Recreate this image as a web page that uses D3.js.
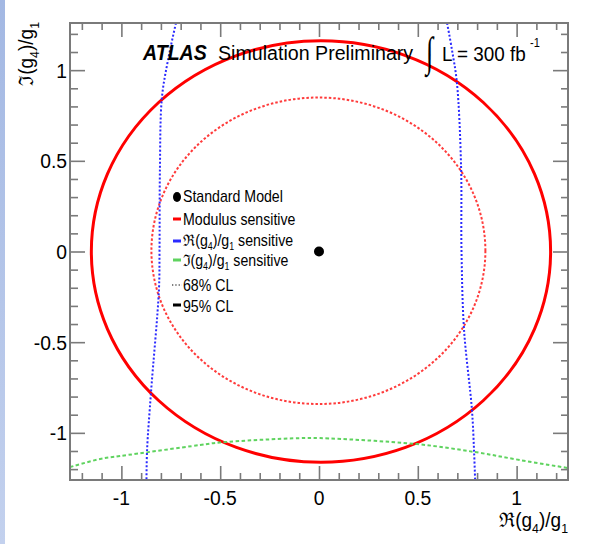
<!DOCTYPE html>
<html>
<head>
<meta charset="utf-8">
<script src="https://cdn.jsdelivr.net/npm/d3@7/dist/d3.min.js"></script>
<style>
  html, body { margin: 0; padding: 0; background: #fff; }
  svg { display: block; }
  text { font-family: "Liberation Sans", Arial, Helvetica, sans-serif; }
</style>
</head>
<body>
<svg id="chart" width="590" height="544"></svg>
<script>
// ---------------- DATA ----------------
const xDomain = [-1.26, 1.26];
const yDomain = [-1.26, 1.26];
const xMajorTicks = [-1, -0.5, 0, 0.5, 1];
const yMajorTicks = [-1, -0.5, 0, 0.5, 1];
const xTickLabels = ["-1", "-0.5", "0", "0.5", "1"];
const yTickLabels = ["-1", "-0.5", "0", "0.5", "1"];
const minorStep = 0.1;

// Standard Model point
const smPoint = [0, 0];

// Modulus-sensitive contours (circles): centre x, centre y, radius
const modulus95 = { cx: 0.01, cy: 0.0, r: 1.162 };
const modulus68 = { cx: -0.003, cy: 0.004, r: 0.845 };

// Re(g4)/g1 sensitive 68% CL boundaries: [x, y]
const reLeft = [[-0.724, 1.26], [-0.764, 1.056], [-0.795, 0.847], [-0.805, 0.45], [-0.807, 0.008],
                [-0.810, -0.212], [-0.850, -0.775], [-0.870, -1.095], [-0.873, -1.26]];
const reRight = [[0.648, 1.26], [0.673, 1.111], [0.698, 0.929], [0.719, 0.466], [0.721, 0.008],
                 [0.734, -0.433], [0.774, -0.874], [0.785, -1.111], [0.790, -1.26]];

// Im(g4)/g1 sensitive 68% CL boundary: [x, y]
const imLower = [[-1.26, -1.189], [-1.108, -1.144], [-1.007, -1.128], [-0.602, -1.067], [-0.501, -1.053],
                 [-0.096, -1.029], [0.005, -1.029], [0.496, -1.062], [0.790, -1.106], [1.017, -1.150],
                 [1.26, -1.194]];

const legendItems = ["Standard Model", "Modulus sensitive", "Re sensitive", "Im sensitive", "68% CL", "95% CL"];

// ---------------- DRAWING ----------------
const svg = d3.select("#chart");
const W = 590, H = 544;
const plot = { left: 70, right: 568, top: 23, bottom: 480 };

const x = d3.scaleLinear().domain(xDomain).range([plot.left, plot.right]);
const y = d3.scaleLinear().domain(yDomain).range([plot.bottom, plot.top]);

// left decorative strip
const defs = svg.append("defs");
const grad = defs.append("linearGradient").attr("id", "strip").attr("x1", 0).attr("y1", 0).attr("x2", 0).attr("y2", 1);
grad.append("stop").attr("offset", "0%").attr("stop-color", "#a3b8e3");
grad.append("stop").attr("offset", "100%").attr("stop-color", "#c3d1ee");
svg.append("rect").attr("x", 0).attr("y", 0).attr("width", 5).attr("height", H).attr("fill", "url(#strip)");

defs.append("clipPath").attr("id", "clip").append("rect")
  .attr("x", plot.left).attr("y", plot.top)
  .attr("width", plot.right - plot.left).attr("height", plot.bottom - plot.top);

const gPlot = svg.append("g").attr("clip-path", "url(#clip)");

// contours
gPlot.append("ellipse")
  .attr("cx", x(modulus68.cx)).attr("cy", y(modulus68.cy))
  .attr("rx", x(modulus68.r) - x(0)).attr("ry", y(0) - y(modulus68.r))
  .attr("fill", "none").attr("stroke", "#ff3b3b").attr("stroke-width", 2)
  .attr("stroke-dasharray", "2.5,2");

gPlot.append("ellipse")
  .attr("cx", x(modulus95.cx)).attr("cy", y(modulus95.cy))
  .attr("rx", x(modulus95.r) - x(0)).attr("ry", y(0) - y(modulus95.r))
  .attr("fill", "none").attr("stroke", "#ff0000").attr("stroke-width", 3);

const line = d3.line().x(d => x(d[0])).y(d => y(d[1])).curve(d3.curveCatmullRom.alpha(0.5));

[reLeft, reRight].forEach(arr => {
  gPlot.append("path").attr("d", line(arr))
    .attr("fill", "none").attr("stroke", "#2a2aff").attr("stroke-width", 2)
    .attr("stroke-dasharray", "2,2");
});

gPlot.append("path").attr("d", line(imLower))
  .attr("fill", "none").attr("stroke", "#5fd35f").attr("stroke-width", 2)
  .attr("stroke-dasharray", "3.5,2.5");

// SM point
gPlot.append("circle").attr("cx", x(smPoint[0])).attr("cy", y(smPoint[1])).attr("r", 5).attr("fill", "#000");

// ---------------- AXES ----------------
const axisColor = "#7a7a7a";
const minorX = d3.range(-12, 13).map(i => +(i * minorStep).toFixed(2)).filter(v => !xMajorTicks.includes(v));
const minorY = d3.range(-12, 13).map(i => +(i * minorStep).toFixed(2)).filter(v => !yMajorTicks.includes(v));

function styleAxis(g) {
  g.select(".domain").remove();
  g.selectAll("line").attr("stroke", axisColor).attr("stroke-width", 1.6);
}

// bottom
svg.append("g").attr("transform", `translate(0,${plot.bottom})`)
  .call(d3.axisBottom(x).tickValues(xMajorTicks).tickSize(-14).tickPadding(0).tickFormat((d, i) => xTickLabels[i]))
  .call(styleAxis)
  .call(g => g.selectAll("text").remove());
svg.append("g").attr("transform", `translate(0,${plot.bottom})`)
  .call(d3.axisBottom(x).tickValues(minorX).tickSize(-7).tickFormat(""))
  .call(styleAxis);
// top
svg.append("g").attr("transform", `translate(0,${plot.top})`)
  .call(d3.axisTop(x).tickValues(xMajorTicks).tickSize(-14).tickFormat(""))
  .call(styleAxis);
svg.append("g").attr("transform", `translate(0,${plot.top})`)
  .call(d3.axisTop(x).tickValues(minorX).tickSize(-7).tickFormat(""))
  .call(styleAxis);
// left
svg.append("g").attr("transform", `translate(${plot.left},0)`)
  .call(d3.axisLeft(y).tickValues(yMajorTicks).tickSize(-15).tickFormat(""))
  .call(styleAxis);
svg.append("g").attr("transform", `translate(${plot.left},0)`)
  .call(d3.axisLeft(y).tickValues(minorY).tickSize(-8).tickFormat(""))
  .call(styleAxis);
// right
svg.append("g").attr("transform", `translate(${plot.right},0)`)
  .call(d3.axisRight(y).tickValues(yMajorTicks).tickSize(-15).tickFormat(""))
  .call(styleAxis);
svg.append("g").attr("transform", `translate(${plot.right},0)`)
  .call(d3.axisRight(y).tickValues(minorY).tickSize(-7).tickFormat(""))
  .call(styleAxis);

// frame
svg.append("rect").attr("x", plot.left).attr("y", plot.top)
  .attr("width", plot.right - plot.left).attr("height", plot.bottom - plot.top)
  .attr("fill", "none").attr("stroke", axisColor).attr("stroke-width", 2);

// tick labels (condensed like the reference)
const tickFont = 21, cond = 0.92;
xMajorTicks.forEach((v, i) => {
  svg.append("g").attr("transform", `translate(${x(v)},505) scale(${cond},1)`)
    .append("text").attr("text-anchor", "middle").attr("font-size", tickFont).attr("fill", "#000")
    .text(xTickLabels[i]);
});
yMajorTicks.forEach((v, i) => {
  svg.append("g").attr("transform", `translate(67,${y(v) + 7.5}) scale(${cond},1)`)
    .append("text").attr("text-anchor", "end").attr("font-size", tickFont).attr("fill", "#000")
    .text(yTickLabels[i]);
});

// axis titles
function ratioLabel(sel, sym, fs, sub) {
  sel.append("tspan").text(sym + "(g");
  sel.append("tspan").attr("font-size", sub).attr("dy", fs * 0.28).text("4");
  sel.append("tspan").attr("dy", -fs * 0.28).text(")/g");
  sel.append("tspan").attr("font-size", sub).attr("dy", fs * 0.28).text("1");
}
const xt = svg.append("g").attr("transform", `translate(568,527) scale(0.95,1)`)
  .append("text").attr("text-anchor", "end").attr("font-size", 20).attr("fill", "#000");
ratioLabel(xt, "\u211C", 20, 13);
const yt = svg.append("g").attr("transform", `translate(33,22) rotate(-90) scale(0.95,1)`)
  .append("text").attr("text-anchor", "end").attr("font-size", 20).attr("fill", "#000");
ratioLabel(yt, "\u2111", 20, 13);

// title (condensed with transforms)
function condText(tx, ty, sx, sy, fs, str, opts = {}) {
  const t = svg.append("g").attr("transform", `translate(${tx},${ty}) scale(${sx},${sy})`)
    .append("text").attr("font-size", fs).attr("fill", "#000").text(str);
  if (opts.bold) t.attr("font-weight", "bold");
  if (opts.italic) t.attr("font-style", "italic");
  if (opts.family) t.style("font-family", opts.family);
  return t;
}
condText(143, 60, 0.89, 1, 22, "ATLAS", { bold: true, italic: true });
condText(218, 60, 0.935, 1, 21, "Simulation Preliminary");
condText(426, 66, 1, 1.6, 26, "\u222B", { family: "'Liberation Serif', serif" });
condText(442, 61, 0.9, 1, 21, "L = 300 fb");
condText(530, 47, 0.85, 1, 13, "-1");

// legend
const lx = 183, lfs = 16, lcond = 0.885;
const legendRows = [
  { y: 202, mark: "dot" },
  { y: 225, mark: "line", color: "#ff0000", my: 219 },
  { y: 246, mark: "line", color: "#2a2aff", my: 241 },
  { y: 266, mark: "line", color: "#5fd35f", my: 260 },
  { y: 291, mark: "dots", color: "#555", my: 285 },
  { y: 312, mark: "line", color: "#000", my: 305 }
];
legendRows.forEach((r, i) => {
  if (r.mark === "dot") {
    svg.append("ellipse").attr("cx", 177).attr("cy", 197).attr("rx", 4).attr("ry", 5).attr("fill", "#000");
  } else if (r.mark === "line") {
    svg.append("line").attr("x1", 173).attr("x2", 181).attr("y1", r.my).attr("y2", r.my)
      .attr("stroke", r.color).attr("stroke-width", 3);
  } else {
    svg.append("line").attr("x1", 172).attr("x2", 182).attr("y1", r.my).attr("y2", r.my)
      .attr("stroke", r.color).attr("stroke-width", 1.3).attr("stroke-dasharray", "1.3,2");
  }
  const t = svg.append("g").attr("transform", `translate(${lx},${r.y}) scale(${lcond},1)`)
    .append("text").attr("font-size", lfs).attr("fill", "#000");
  const name = legendItems[i];
  if (name === "Re sensitive" || name === "Im sensitive") {
    ratioLabel(t, name === "Re sensitive" ? "\u211C" : "\u2111", lfs, 10);
    t.append("tspan").attr("dy", -lfs * 0.28).text(" sensitive");
  } else {
    t.text(name);
  }
});
</script>
</body>
</html>
